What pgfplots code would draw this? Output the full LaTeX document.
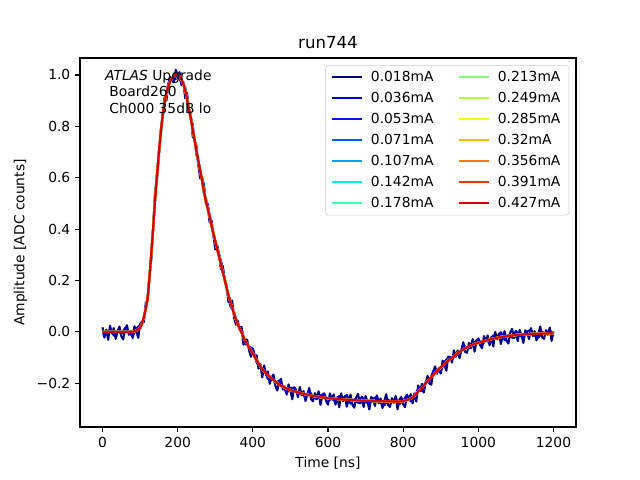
\documentclass[border=0pt]{standalone}
\usepackage{pgfplots}
\pgfplotsset{compat=1.18}
\usepackage{pgfplotstable}
\usepackage{fontspec}
\setmainfont{DejaVu Sans}

\definecolor{c0}{rgb}{0,0,0.5}
\definecolor{c1}{rgb}{0,0,0.82}
\definecolor{c2}{rgb}{0,0.07,1}
\definecolor{c3}{rgb}{0,0.36,1}
\definecolor{c4}{rgb}{0,0.64,1}
\definecolor{c5}{rgb}{0.02,0.93,0.94}
\definecolor{c6}{rgb}{0.25,1,0.71}
\definecolor{c7}{rgb}{0.48,1,0.48}
\definecolor{c8}{rgb}{0.71,1,0.25}
\definecolor{c9}{rgb}{0.945,0.99,0.02}
\definecolor{c10}{rgb}{1,0.725,0}
\definecolor{c11}{rgb}{1,0.46,0}
\definecolor{c12}{rgb}{1,0.195,0}
\definecolor{c13}{rgb}{0.825,0,0}

\pgfplotstableread{
t a
0 0.018
5 -0.022
10 0.009
15 -0.031
20 0.024
25 -0.006
30 0.015
35 -0.027
40 0.003
45 0.021
50 -0.017
55 -0.029
60 0.012
65 0.026
70 -0.011
75 0.005
80 -0.024
85 0.022
90 0.002
95 -0.023
100 0.031
105 0.040
110 0.039
115 0.113
120 0.122
125 0.226
130 0.284
135 0.412
140 0.548
145 0.596
150 0.679
155 0.788
160 0.840
165 0.912
170 0.900
175 0.962
180 0.992
185 0.976
190 0.971
195 1.020
200 0.998
205 1.011
210 0.960
215 0.974
220 0.909
225 0.929
230 0.860
235 0.845
240 0.760
245 0.749
250 0.724
255 0.648
260 0.597
265 0.600
270 0.572
275 0.499
280 0.485
285 0.426
290 0.434
295 0.380
300 0.321
305 0.339
310 0.301
315 0.244
320 0.256
325 0.197
330 0.184
335 0.117
340 0.120
345 0.122
350 0.056
355 0.028
360 0.043
365 0.007
370 0.020
375 -0.050
380 -0.028
385 -0.031
390 -0.072
395 -0.097
400 -0.065
405 -0.099
410 -0.091
415 -0.143
420 -0.125
425 -0.177
430 -0.130
435 -0.168
440 -0.154
445 -0.202
450 -0.177
455 -0.166
460 -0.210
465 -0.228
470 -0.193
475 -0.183
480 -0.224
485 -0.212
490 -0.244
495 -0.204
500 -0.229
505 -0.262
510 -0.215
515 -0.225
520 -0.254
525 -0.214
530 -0.247
535 -0.230
540 -0.269
545 -0.243
550 -0.218
555 -0.262
560 -0.270
565 -0.238
570 -0.257
575 -0.231
580 -0.284
585 -0.248
590 -0.239
595 -0.269
600 -0.283
605 -0.239
610 -0.262
615 -0.243
620 -0.283
625 -0.253
630 -0.293
635 -0.239
640 -0.269
645 -0.249
650 -0.291
655 -0.262
660 -0.244
665 -0.283
670 -0.295
675 -0.255
680 -0.241
685 -0.278
690 -0.263
695 -0.292
700 -0.249
705 -0.271
710 -0.302
715 -0.253
720 -0.261
725 -0.288
730 -0.247
735 -0.278
740 -0.259
745 -0.296
750 -0.268
755 -0.242
760 -0.285
765 -0.292
770 -0.258
775 -0.276
780 -0.249
785 -0.301
790 -0.264
795 -0.253
800 -0.281
805 -0.293
810 -0.245
815 -0.264
820 -0.242
825 -0.278
830 -0.239
835 -0.271
840 -0.208
845 -0.231
850 -0.202
855 -0.236
860 -0.197
865 -0.171
870 -0.201
875 -0.205
880 -0.156
885 -0.134
890 -0.163
895 -0.140
900 -0.162
905 -0.112
910 -0.128
915 -0.151
920 -0.096
925 -0.098
930 -0.119
935 -0.072
940 -0.097
945 -0.072
950 -0.103
955 -0.070
960 -0.040
965 -0.078
970 -0.081
975 -0.043
980 -0.058
985 -0.028
990 -0.077
995 -0.038
1000 -0.025
1005 -0.052
1010 -0.063
1015 -0.016
1020 -0.036
1025 -0.014
1030 -0.052
1035 -0.019
1040 -0.057
1045 0.000
1050 -0.029
1055 -0.006
1060 -0.047
1065 -0.016
1070 0.003
1075 -0.034
1080 -0.045
1085 -0.003
1090 0.012
1095 -0.024
1100 -0.007
1105 -0.036
1110 0.008
1115 -0.014
1120 -0.043
1125 0.006
1130 -0.001
1135 -0.028
1140 0.015
1145 -0.016
1150 0.003
1155 -0.033
1160 -0.005
1165 0.021
1170 -0.021
1175 -0.027
1180 0.007
1185 -0.011
1190 0.017
1195 -0.035
1200 0.002
}\seriesA

\pgfplotstableread{
t b
0 -0.010
10 -0.005
20 0.011
30 -0.014
40 0.005
50 -0.007
60 0.016
70 -0.001
80 -0.017
90 0.013
100 0.028
110 0.050
120 0.133
130 0.297
140 0.538
150 0.696
160 0.835
170 0.937
180 0.990
190 0.984
200 1.001
210 0.971
220 0.953
230 0.861
240 0.806
250 0.689
260 0.630
270 0.537
280 0.496
290 0.413
300 0.341
310 0.303
320 0.250
330 0.166
340 0.102
350 0.077
360 0.027
370 0.012
380 -0.046
390 -0.058
400 -0.065
410 -0.119
420 -0.139
430 -0.143
440 -0.183
450 -0.175
460 -0.200
470 -0.189
480 -0.214
490 -0.237
500 -0.218
510 -0.218
520 -0.243
530 -0.236
540 -0.256
550 -0.228
560 -0.253
570 -0.262
580 -0.247
590 -0.241
600 -0.270
610 -0.259
620 -0.272
630 -0.249
640 -0.268
650 -0.245
660 -0.279
670 -0.262
680 -0.276
690 -0.252
700 -0.270
710 -0.282
720 -0.259
730 -0.253
740 -0.277
750 -0.286
760 -0.264
770 -0.274
780 -0.257
790 -0.282
800 -0.267
810 -0.245
820 -0.270
830 -0.253
840 -0.221
850 -0.231
860 -0.195
870 -0.191
880 -0.152
890 -0.153
900 -0.155
910 -0.117
920 -0.099
930 -0.108
940 -0.086
950 -0.090
960 -0.050
970 -0.064
980 -0.063
990 -0.040
1000 -0.027
1010 -0.050
1020 -0.033
1030 -0.041
1040 -0.013
1050 -0.028
1060 -0.001
1070 -0.032
1080 -0.012
1090 -0.023
1100 0.004
1110 -0.013
1120 -0.023
1130 0.001
1140 0.009
1150 -0.015
1160 -0.023
1170 0.000
1180 -0.009
1190 0.009
1200 -0.016
}\seriesB

\pgfplotstableread{
t s
0 0
80 0
85 0.003
90 0.005
95 0.01
100 0.015
105 0.032
110 0.058
115 0.09
120 0.13
125 0.215
130 0.31
135 0.41
140 0.52
145 0.61
150 0.70
155 0.775
160 0.845
165 0.89
170 0.93
175 0.955
180 0.975
185 0.988
190 0.996
195 1.0
200 1.0
205 0.993
210 0.982
215 0.965
220 0.94
225 0.905
230 0.866
235 0.83
240 0.787
245 0.746
250 0.703
255 0.665
260 0.626
265 0.588
270 0.546
275 0.51
280 0.48
285 0.45
290 0.415
295 0.383
300 0.354
305 0.323
310 0.293
315 0.263
320 0.233
325 0.205
330 0.173
335 0.143
340 0.118
345 0.094
350 0.07
355 0.049
360 0.03
365 0.012
370 -0.002
375 -0.02
380 -0.035
385 -0.048
390 -0.06
400 -0.085
410 -0.109
420 -0.134
430 -0.154
440 -0.169
450 -0.18
460 -0.193
470 -0.205
480 -0.213
490 -0.22
500 -0.226
520 -0.235
540 -0.243
560 -0.249
580 -0.254
600 -0.258
650 -0.264
700 -0.268
750 -0.27
790 -0.271
800 -0.269
810 -0.265
820 -0.26
830 -0.248
840 -0.232
850 -0.217
860 -0.2
870 -0.184
880 -0.168
890 -0.152
900 -0.138
910 -0.125
920 -0.112
930 -0.1
940 -0.089
950 -0.077
960 -0.068
970 -0.06
980 -0.053
990 -0.047
1000 -0.042
1020 -0.034
1040 -0.026
1060 -0.02
1080 -0.016
1100 -0.012
1140 -0.008
1170 -0.007
1200 -0.005
}\smooth

\begin{document}
\begin{tikzpicture}
\begin{axis}[
  scale only axis,
  width=4.96in, height=3.69in,
  xmin=-60, xmax=1260,
  ymin=-0.37, ymax=1.066,
  xtick={0,200,400,600,800,1000,1200},
  xticklabels={0,200,400,600,800,1000,1200},
  ytick={-0.2,0,0.2,0.4,0.6,0.8,1.0},
  yticklabels={−0.2,0.0,0.2,0.4,0.6,0.8,1.0},
  tick align=outside,
  xtick pos=bottom, ytick pos=left,
  major tick length=3.5pt,
  every tick/.style={black, line width=0.8pt},
  axis line style={line width=0.8pt},
  tick label style={font=\fontsize{10pt}{12pt}\selectfont},
  label style={font=\fontsize{10pt}{12pt}\selectfont},
  xlabel={Time [ns]},
  ylabel={Amplitude [ADC counts]},
  title={run744},
  title style={font=\fontsize{12pt}{14pt}\selectfont, yshift=-3pt},
  every axis plot/.append style={line width=1.5pt, line join=round},
  legend columns=2,
  legend cell align=left,
  legend image code/.code={\draw[#1, line width=1.5pt] (0cm,0cm) -- (0.76cm,0cm);},
  legend style={at={(0.986,0.981)}, anchor=north east,
    draw=black!20, rounded corners=2pt, fill=white, fill opacity=0.8, text opacity=1,
    font=\fontsize{10pt}{12pt}\selectfont,
    row sep=2.3pt, inner xsep=4pt, inner ysep=2pt,
    /tikz/every odd column/.append style={column sep=3.6pt},
    /tikz/every even column/.append style={column sep=15.8pt}},
]
\addplot[c0, forget plot] table[x=t,y=a] {\seriesA};
\addplot[c1, forget plot] table[x=t,y=b] {\seriesB};
\addplot[c2, forget plot] table[x=t,y=s] {\smooth};
\addplot[c3, forget plot] table[x=t,y=s] {\smooth};
\addplot[c4, forget plot] table[x=t,y=s] {\smooth};
\addplot[c5, forget plot] table[x=t,y=s] {\smooth};
\addplot[c6, forget plot] table[x=t,y=s] {\smooth};
\addplot[c7, forget plot] table[x=t,y=s] {\smooth};
\addplot[c8, forget plot] table[x=t,y=s] {\smooth};
\addplot[c9, forget plot] table[x=t,y=s] {\smooth};
\addplot[c10, forget plot] table[x=t,y=s] {\smooth};
\addplot[c11, forget plot] table[x=t,y=s] {\smooth};
\addplot[c12, forget plot] table[x=t,y=s] {\smooth};
\addplot[c13, forget plot] table[x=t,y=s] {\smooth};
\addlegendimage{c0}\addlegendentry{0.018mA}
\addlegendimage{c7}\addlegendentry{0.213mA}
\addlegendimage{c1}\addlegendentry{0.036mA}
\addlegendimage{c8}\addlegendentry{0.249mA}
\addlegendimage{c2}\addlegendentry{0.053mA}
\addlegendimage{c9}\addlegendentry{0.285mA}
\addlegendimage{c3}\addlegendentry{0.071mA}
\addlegendimage{c10}\addlegendentry{0.32mA}
\addlegendimage{c4}\addlegendentry{0.107mA}
\addlegendimage{c11}\addlegendentry{0.356mA}
\addlegendimage{c5}\addlegendentry{0.142mA}
\addlegendimage{c12}\addlegendentry{0.391mA}
\addlegendimage{c6}\addlegendentry{0.178mA}
\addlegendimage{c13}\addlegendentry{0.427mA}
\node[anchor=north west, align=left, inner sep=0pt, font=\fontsize{10pt}{11.9pt}\selectfont]
  at (rel axis cs:0.05,0.969) {\textit{ATLAS} Upgrade\\ \ Board260\\ \ Ch000 35dB lo};
\end{axis}
\pgfresetboundingbox
\path ([shift={(-0.8in,-0.53in)}]current axis.south west) rectangle ([shift={(0.64in,0.58in)}]current axis.north east);
\end{tikzpicture}
\end{document}
